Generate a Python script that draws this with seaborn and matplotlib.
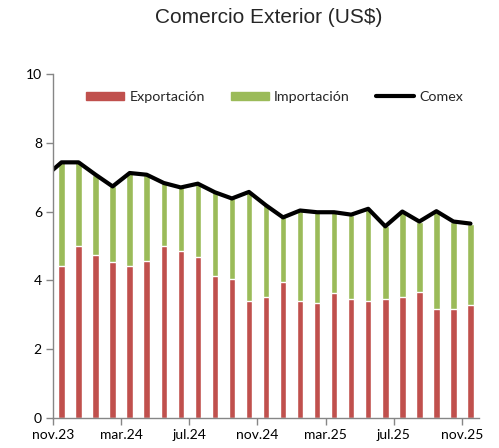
import matplotlib
matplotlib.use("Agg")
import matplotlib.pyplot as plt
from matplotlib.patches import Patch
from matplotlib.lines import Line2D
import seaborn as sns
import numpy as np
import pandas as pd

# Monthly values, nov.23 .. nov.25 (US$ bn)
meses = ["nov.23", "dic.23", "ene.24", "feb.24", "mar.24", "abr.24", "may.24",
         "jun.24", "jul.24", "ago.24", "sep.24", "oct.24", "nov.24", "dic.24",
         "ene.25", "feb.25", "mar.25", "abr.25", "may.25", "jun.25", "jul.25",
         "ago.25", "sep.25", "oct.25", "nov.25"]
exportacion = [4.41, 5.00, 4.75, 4.54, 4.41, 4.57, 5.00, 4.84, 4.67, 4.12, 4.03,
               3.40, 3.53, 3.94, 3.40, 3.33, 3.62, 3.45, 3.40, 3.45, 3.53, 3.65,
               3.16, 3.16, 3.27]
importacion = [3.02, 2.43, 2.32, 2.19, 2.71, 2.50, 1.83, 1.86, 2.14, 2.44, 2.35,
               3.17, 2.65, 1.89, 2.63, 2.65, 2.36, 2.46, 2.68, 2.12, 2.47, 2.06,
               2.85, 2.55, 2.38]
# comex line starts one month earlier (oct.23), clipped at the axis edge
comex = [7.00, 7.43, 7.43, 7.07, 6.73, 7.12, 7.07, 6.83, 6.70, 6.81, 6.56, 6.38,
         6.57, 6.18, 5.83, 6.03, 5.98, 5.98, 5.91, 6.08, 5.57, 6.00, 5.71, 6.01,
         5.71, 5.65]
tick_labels = ["nov.23", "mar.24", "jul.24", "nov.24", "mar.25", "jul.25", "nov.25"]

RED = "#C0504D"
GREEN = "#9BBB59"
GRAY = "#868686"

sns.set_theme(style="white")
plt.rcParams["font.family"] = ["Lato", "DejaVu Sans"]

df = pd.DataFrame({"mes": meses, "exp": exportacion, "imp": importacion})
df["total"] = df["exp"] + df["imp"]

fig = plt.figure(figsize=(4.99, 4.48), dpi=100)
ax = fig.add_axes([0.1062, 0.067, 0.8537, 0.768])

sns.barplot(data=df, x="mes", y="total", color=GREEN, width=0.38,
            saturation=1, ax=ax)
sns.barplot(data=df, x="mes", y="exp", color=RED, width=0.38,
            saturation=1, ax=ax)
sns.lineplot(x=np.arange(-1, len(meses)), y=comex, color="black", lw=3,
             ax=ax, clip_on=True)

ax.set_xlim(-0.5, len(meses) - 0.5)
ax.set_ylim(0, 10)
ax.set_yticks(np.arange(0, 11, 2))
ax.set_xticks(np.arange(-0.5, len(meses), 4))
ax.set_xticklabels(tick_labels)
ax.set_xlabel("")
ax.set_ylabel("")

for s in ["top", "right"]:
    ax.spines[s].set_visible(False)
for s in ["left", "bottom"]:
    ax.spines[s].set_color(GRAY)
    ax.spines[s].set_linewidth(1)
ax.tick_params(axis="both", which="major", length=5, width=1, color=GRAY,
               labelsize=10, labelcolor="black", direction="out", pad=3)
ax.tick_params(axis="y", left=True)
ax.tick_params(axis="x", bottom=True)

handles = [Patch(color=RED), Patch(color=GREEN), Line2D([], [], color="black", lw=3)]
ax.legend(handles, ["Exportación", "Importación", "Comex"], ncol=3,
          loc="center", bbox_to_anchor=(0.52, 0.933), frameon=False,
          fontsize=10.3, handlelength=2.7, handleheight=0.55,
          handletextpad=0.35, columnspacing=1.8)

fig.suptitle("Comercio Exterior (US$)", x=0.539, y=0.982, fontsize=15,
             family=["Liberation Sans", "DejaVu Sans"])

fig.savefig("out.png", dpi=100)
